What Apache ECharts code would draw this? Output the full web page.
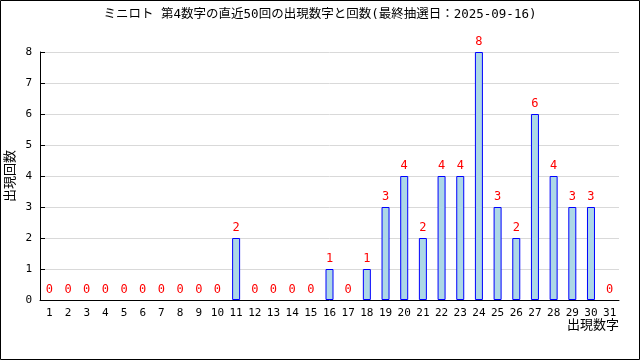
<!DOCTYPE html>
<html><head><meta charset="utf-8">
<script src="https://cdn.jsdelivr.net/npm/echarts@6/dist/echarts.min.js"></script>
<style>html,body{margin:0;padding:0;background:#fff}#c{width:640px;height:360px}</style>
</head><body><div id="c"></div>
<script>
const categories = ['1','2','3','4','5','6','7','8','9','10','11','12','13','14','15','16','17','18','19','20','21','22','23','24','25','26','27','28','29','30','31'];
const counts = [0,0,0,0,0,0,0,0,0,0,2,0,0,0,0,1,0,1,3,4,2,4,4,8,3,2,6,4,3,3,0];
const yTicks = [0,1,2,3,4,5,6,7,8];
const titleText = 'ミニロト 第4数字の直近50回の出現数字と回数(最終抽選日：2025-09-16)';
const FONT = '"DejaVu Sans Mono", "Noto Sans CJK JP", monospace';
const chart = echarts.init(document.getElementById('c'));
chart.setOption({
  animation: false,
  textStyle: {fontFamily: FONT},
  title: {text: titleText, left: 'center', top: 3, textStyle: {fontSize: 12.5, fontWeight: 'normal', color: '#000', fontFamily: FONT}},
  graphic: [{type: 'rect', shape: {x: 0.5, y: 0.5, width: 639, height: 359}, style: {fill: 'none', stroke: '#000', lineWidth: 1}, silent: true}],
  grid: {left: 40, right: 21, top: 52, bottom: 60, containLabel: false, outerBoundsMode: 'none'},
  xAxis: {
    type: 'category', data: categories,
    name: '出現数字', nameLocation: 'end', nameGap: 0, nameMoveOverlap: false,
    nameTextStyle: {fontSize: 13, color: '#000', align: 'right', verticalAlign: 'top', padding: [19, 0, 0, 0]},
    axisLine: {lineStyle: {color: '#000'}},
    axisTick: {inside: true, length: 5, lineStyle: {color: '#000'}},
    axisLabel: {color: '#000', fontSize: 11, margin: 8, interval: 0}
  },
  yAxis: {
    type: 'value', min: yTicks[0], max: yTicks[yTicks.length-1], interval: 1,
    name: '出現回数', nameLocation: 'middle', nameGap: 23, nameRotate: 90, nameMoveOverlap: false,
    nameTextStyle: {fontSize: 13, color: '#000'},
    axisLine: {show: true, lineStyle: {color: '#000'}},
    axisTick: {show: true, inside: true, length: 5, lineStyle: {color: '#000'}},
    axisLabel: {color: '#000', fontSize: 11, margin: 8},
    splitLine: {lineStyle: {color: '#d9d9d9'}}
  },
  series: [{
    type: 'bar',
    data: counts.map(v => ({value: v, itemStyle: v === 0 ? {borderWidth: 0, color: 'transparent'} : undefined})),
    barWidth: 8,
    itemStyle: {color: '#add8e6', borderColor: '#0000ff', borderWidth: 1},
    label: {show: true, position: 'top', distance: 4, color: '#ff0000', fontSize: 12}
  }]
});
</script></body></html>
